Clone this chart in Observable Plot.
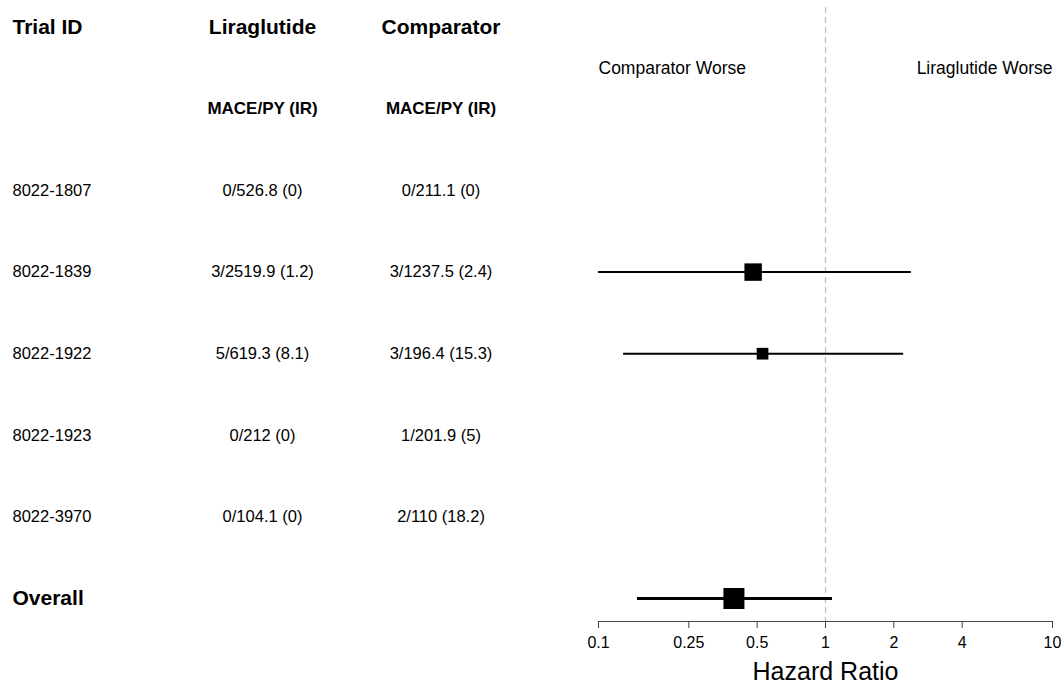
<!DOCTYPE html>
<html><head><meta charset="utf-8">
<script src="https://cdn.jsdelivr.net/npm/d3@7"></script>
<script src="https://cdn.jsdelivr.net/npm/@observablehq/plot@0.6"></script>
<style>
body{margin:0;background:#fff}
#chart svg{display:block;font-family:"Liberation Sans",Arial,sans-serif}
</style>
</head><body><div id="chart"></div>
<script>
// ---- data ----
const trialIds  = ["8022-1807","8022-1839","8022-1922","8022-1923","8022-3970","Overall"];
const liraText  = ["0/526.8 (0)","3/2519.9 (1.2)","5/619.3 (8.1)","0/212 (0)","0/104.1 (0)",""];
const compText  = ["0/211.1 (0)","3/1237.5 (2.4)","3/196.4 (15.3)","1/201.9 (5)","2/110 (18.2)",""];
const hr        = [null,0.48,0.528,null,null,0.395];
const lower     = [null,0.1,0.129,null,null,0.1485];
const upper     = [null,2.39,2.21,null,null,1.073];
const weight    = [null,0.69,0.31,null,null,1];
const xTicks    = [0.1,0.25,0.5,1,2,4,10];
const headers   = ["Trial ID","Liraglutide","Comparator"];
const subHeaders= ["MACE/PY (IR)","MACE/PY (IR)"];
const directionLabels = ["Comparator Worse","Liraglutide Worse"];
const axisLabel = "Hazard Ratio";

// ---- build table ----
const rows = trialIds.map((id,i)=>({id,row:i+2,lira:liraText[i],comp:compText[i],hr:hr[i],lo:lower[i],hi:upper[i],w:weight[i],overall:id==="Overall"}));
const est = rows.filter(d=>d.hr!=null);
const trials = rows.filter(d=>!d.overall);
const overall = rows.filter(d=>d.overall);

const colDx = [-586,-336,-157.5];
const font = {fill:"#000"};

const marks = [
  Plot.ruleX([1],{stroke:"#bdbdbd",strokeWidth:1.2,strokeDasharray:"6,4"}),
  Plot.frame({anchor:"bottom",stroke:"#444",strokeWidth:1.2}),
  Plot.axisX({ticks:xTicks,tickFormat:d=>String(d),tickSize:7,tickPadding:8,fontSize:16,label:null,stroke:"#444",fill:"#000"}),
  Plot.text([axisLabel],{x:()=>1,frameAnchor:"bottom",dy:58,fontSize:25,fill:"#000"}),
  // headers
  Plot.text([headers[0]],{y:()=>0,frameAnchor:"left",dx:colDx[0],textAnchor:"start",fontSize:21,fontWeight:"bold",...font}),
  Plot.text([headers[1]],{y:()=>0,frameAnchor:"left",dx:colDx[1],textAnchor:"middle",fontSize:21,fontWeight:"bold",...font}),
  Plot.text([headers[2]],{y:()=>0,frameAnchor:"left",dx:colDx[2],textAnchor:"middle",fontSize:21,fontWeight:"bold",...font}),
  Plot.text([subHeaders[0]],{y:()=>1,frameAnchor:"left",dx:colDx[1],textAnchor:"middle",fontSize:17,fontWeight:"bold",...font}),
  Plot.text([subHeaders[1]],{y:()=>1,frameAnchor:"left",dx:colDx[2],textAnchor:"middle",fontSize:17,fontWeight:"bold",...font}),
  Plot.text([directionLabels[0]],{x:()=>0.1,y:()=>0.5,textAnchor:"start",fontSize:17.5,...font}),
  Plot.text([directionLabels[1]],{x:()=>10,y:()=>0.5,textAnchor:"end",fontSize:17.5,...font}),
  // table body
  Plot.text(trials,{y:"row",text:"id",frameAnchor:"left",dx:colDx[0],textAnchor:"start",fontSize:16.5,...font}),
  Plot.text(overall,{y:"row",text:"id",frameAnchor:"left",dx:colDx[0],textAnchor:"start",fontSize:21,fontWeight:"bold",...font}),
  Plot.text(rows,{y:"row",text:"lira",frameAnchor:"left",dx:colDx[1],textAnchor:"middle",fontSize:16.5,...font}),
  Plot.text(rows,{y:"row",text:"comp",frameAnchor:"left",dx:colDx[2],textAnchor:"middle",fontSize:16.5,...font}),
  // forest
  Plot.ruleY(est.filter(d=>!d.overall),{y:"row",x1:"lo",x2:"hi",stroke:"#000",strokeWidth:2}),
  Plot.ruleY(est.filter(d=>d.overall),{y:"row",x1:"lo",x2:"hi",stroke:"#000",strokeWidth:3.2}),
  Plot.dot(est,{x:"hr",y:"row",r:"w",symbol:"square",fill:"#000",stroke:null})
];

const chart = Plot.plot({
  width:1064,height:683,
  marginLeft:598,marginRight:12,marginTop:7,marginBottom:62,
  style:{fontFamily:'"Liberation Sans",Arial,sans-serif',background:"#fff"},
  x:{type:"log",domain:[0.1,10]},
  y:{type:"linear",domain:[0,7],range:[26.8,598],axis:null},
  r:{type:"sqrt",domain:[0,1],range:[0,11.85]},
  marks
});
document.getElementById("chart").append(chart);
</script>
</body></html>
